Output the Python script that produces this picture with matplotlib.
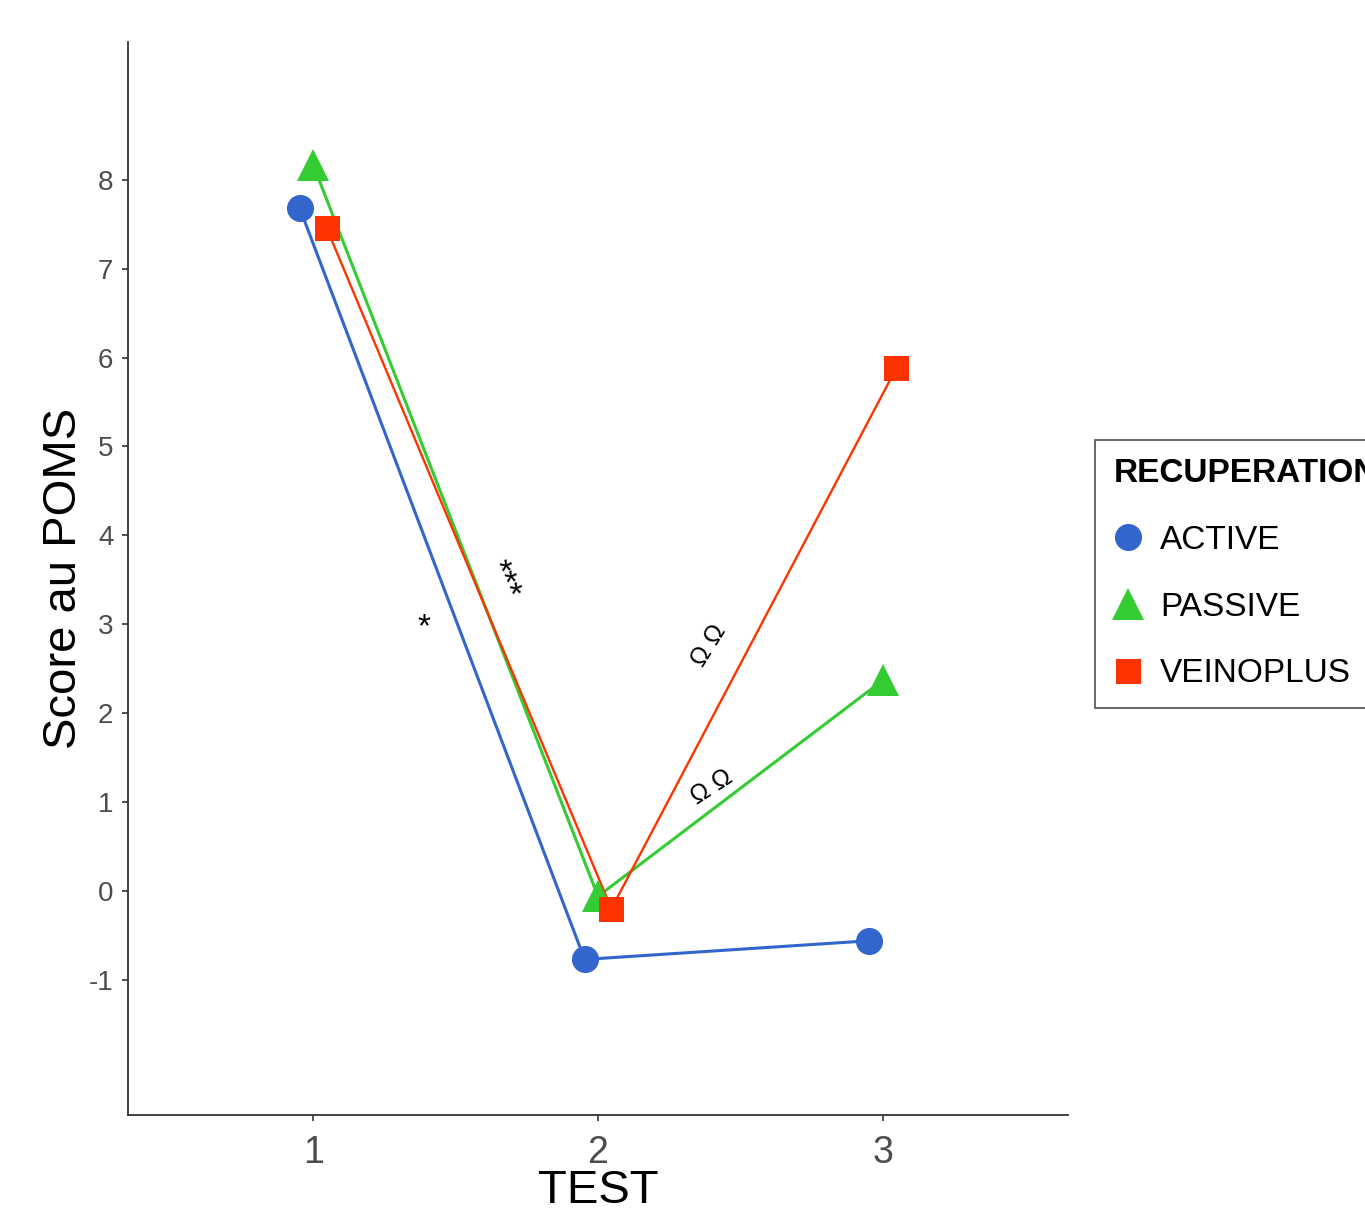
import matplotlib
matplotlib.use("Agg")
import matplotlib.pyplot as plt
import numpy as np

plt.rcParams['font.family'] = ['Liberation Sans', 'DejaVu Sans']
plt.rcParams['axes.unicode_minus'] = False

tests = [1, 2, 3]
groups = ["ACTIVE", "PASSIVE", "VEINOPLUS"]
active = [7.68, -0.77, -0.56]
passive = [8.17, -0.06, 2.37]
veinoplus = [7.46, -0.20, 5.88]
dodge = [-0.047, 0.0, 0.047]
colors = ["#3366CC", "#33CC33", "#FF3300"]
markers = ["o", "^", "s"]
msizes = [19.5, 23, 18]
lwidths = [2.2, 2.2, 1.7]
yticks = list(range(-1, 9))

# significance marks: (x, y, text, rotation, size)
marks = [
    (1.39, 2.96, "*", 0, 24),
    (1.665, 3.50, "***", -66, 24),
    (2.39, 2.76, "\u03a9 \u03a9", 58, 18),
    (2.40, 1.17, "\u03a9 \u03a9", 33, 18),
]

fig = plt.figure(figsize=(13.65, 12.32), dpi=100)
ax = fig.add_axes([128 / 1365, 1 - 1115 / 1232, 940 / 1365, 1073 / 1232])

for vals, name, col, mk, ms, lw, dx in zip([active, passive, veinoplus], groups, colors,
                                           markers, msizes, lwidths, dodge):
    xs = np.array(tests) + dx
    ax.plot(xs, vals, color=col, lw=lw, zorder=2)
    ax.plot(xs, vals, linestyle="none", marker=mk, color=col, markersize=ms,
            markeredgewidth=0, label=name, zorder=3)

for x, y, t, rot, sz in marks:
    ax.text(x, y, t, rotation=rot, fontsize=sz, ha="center", va="center",
            rotation_mode="anchor", color="black")

ax.set_xlim(0.35, 3.65)
ax.set_ylim(-2.52, 9.55)
ax.set_xticks(tests)
ax.set_xticklabels([str(t) for t in tests])
ax.set_yticks(yticks)
ax.set_yticklabels([str(v) for v in yticks])
ax.tick_params(axis="x", labelsize=27, labelcolor="#4d4d4d", color="#333333",
               length=4, width=1.2, pad=10.4)
ax.tick_params(axis="y", labelsize=20, labelcolor="#4d4d4d", color="#333333",
               length=4, width=1.2, pad=6.5)
for s in ["top", "right"]:
    ax.spines[s].set_visible(False)
for s in ["left", "bottom"]:
    ax.spines[s].set_color("#333333")
    ax.spines[s].set_linewidth(1.3)

ax.set_xlabel("TEST", fontsize=34)
ax.xaxis.set_label_coords(0.5, -0.050)
ax.set_ylabel("Score au POMS", fontsize=34)
ax.yaxis.set_label_coords(-0.045, 0.5)

leg = fig.legend(loc="upper left", bbox_to_anchor=(1095 / 1365, 1 - 440 / 1232),
                 borderaxespad=0, title="RECUPERATION", fontsize=24, title_fontsize=24,
                 frameon=True, fancybox=False, edgecolor="#333333",
                 handletextpad=0.55, labelspacing=1.07, borderpad=0.55,
                 handlelength=0.85, markerscale=1.0)
leg.get_title().set_fontweight("bold")
leg._legend_box.align = "left"
leg.get_frame().set_linewidth(1.3)

fig.savefig("out.png", dpi=100)
